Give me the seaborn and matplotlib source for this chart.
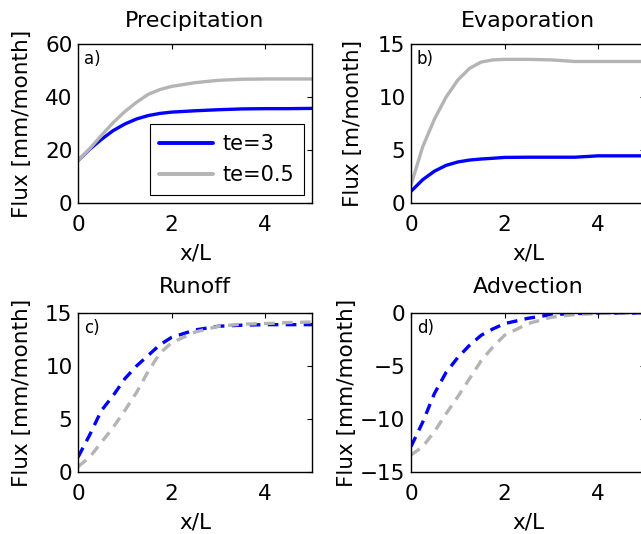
import numpy as np
import pandas as pd
import matplotlib
matplotlib.use("Agg")
import matplotlib.pyplot as plt
from matplotlib.lines import Line2D
import seaborn as sns

x_over_L = [0, 0.25, 0.5, 0.75, 1, 1.25, 1.5, 1.75, 2, 2.5, 3, 3.5, 4, 4.5, 5]
series_names = ["te=3", "te=0.5"]

precip_te3 = [16, 20.3, 24, 27.3, 29.8, 31.7, 33, 33.8, 34.3, 34.8, 35.2, 35.5, 35.6, 35.6, 35.7]
precip_te05 = [16, 20.5, 25.5, 30.3, 34.5, 38, 41, 42.8, 44, 45.4, 46.3, 46.7, 46.8, 46.8, 46.8]
evap_te3 = [1.1, 2.2, 3.0, 3.55, 3.87, 4.05, 4.15, 4.22, 4.3, 4.32, 4.32, 4.32, 4.45, 4.45, 4.45]
evap_te05 = [1.7, 5.3, 7.9, 10.0, 11.6, 12.7, 13.3, 13.5, 13.55, 13.55, 13.5, 13.35, 13.35, 13.35, 13.35]
runoff_te3 = [1.4, 3.5, 5.8, 7.2, 8.8, 10.0, 11.0, 12.0, 12.7, 13.4, 13.75, 13.85, 13.9, 13.9, 13.9]
runoff_te05 = [0.5, 1.4, 2.8, 4.2, 5.8, 7.5, 9.5, 11.2, 12.2, 13.2, 13.75, 13.95, 14.0, 14.1, 14.15]
adv_te3 = [-12.6, -10.3, -7.6, -5.6, -4.2, -3.05, -2.1, -1.5, -1.0, -0.5, -0.15, -0.05, 0, 0, 0]
adv_te05 = [-13.4, -12.6, -11.2, -9.5, -7.9, -6.2, -4.5, -3.2, -2.1, -1.0, -0.4, -0.15, -0.05, 0, 0]

titles = ["Precipitation", "Evaporation", "Runoff", "Advection"]
panel_tags = ["a)", "b)", "c)", "d)"]
ylabels = ["Flux [mm/month]", "Flux [m/month]", "Flux [mm/month]", "Flux [mm/month]"]
ylims = [(0, 60), (0, 15), (0, 15), (-15, 0)]
yticks = [[0, 20, 40, 60], [0, 5, 10, 15], [0, 5, 10, 15], [-15, -10, -5, 0]]
xticks = [0, 2, 4]

sns.set_theme(style="white")
plt.rcParams["font.family"] = ["DejaVu Sans"]
plt.rcParams.update({
    "xtick.direction": "in", "ytick.direction": "in",
    "xtick.top": True, "ytick.right": True,
    "xtick.major.size": 3.5, "ytick.major.size": 3.5,
    "xtick.major.width": 0.8, "ytick.major.width": 0.8,
    "axes.edgecolor": "black", "axes.linewidth": 1.0,
    "xtick.color": "black", "ytick.color": "black",
    "text.color": "black", "axes.labelcolor": "black",
})

colors = {"te=3": "#0000ff", "te=0.5": "#b4b4b4"}

fig = plt.figure(figsize=(6.41, 5.34), dpi=100)
W, H = 641, 534
positions = [
    (78, 44, 234, 159),
    (411, 44, 234, 159),
    (78, 313, 234, 159),
    (411, 313, 234, 159),
]
title_pads = [12.5, 12.5, 14.5, 14.5]
ylabel_x = [-0.197, -0.205, -0.197, -0.231]
data_sets = [
    (precip_te3, precip_te05),
    (evap_te3, evap_te05),
    (runoff_te3, runoff_te05),
    (adv_te3, adv_te05),
]

for i in range(4):
    l, t, w, h = positions[i]
    ax = fig.add_axes([l / W, 1 - (t + h) / H, w / W, h / H])
    s3, s05 = data_sets[i]
    df = pd.DataFrame({
        "x": x_over_L * 2,
        "y": list(s3) + list(s05),
        "te": [series_names[0]] * len(x_over_L) + [series_names[1]] * len(x_over_L),
    })
    sns.lineplot(data=df, x="x", y="y", hue="te", palette=colors,
                 hue_order=series_names, linewidth=2.4, ax=ax,
                 legend=False, sort=False)
    if i >= 2:
        for ln in ax.get_lines():
            ln.set_dashes((3.2, 2.2))
    ax.set_xlim(0, 5)
    ax.set_ylim(*ylims[i])
    ax.set_xticks(xticks)
    ax.set_yticks(yticks[i])
    ax.tick_params(axis="y", labelsize=15.5, pad=4, colors="black")
    ax.tick_params(axis="x", labelsize=15.5, pad=9, colors="black")
    ax.set_xlabel("x/L", fontsize=15.5, labelpad=6)
    ax.set_ylabel(ylabels[i], fontsize=15.5)
    ax.yaxis.set_label_coords(ylabel_x[i], 0.5)
    ax.set_title(titles[i], fontsize=16, pad=title_pads[i])
    ax.text(0.025, 0.965, panel_tags[i], transform=ax.transAxes,
            fontsize=12, va="top", ha="left")
    for sp in ax.spines.values():
        sp.set_visible(True)
        sp.set_color("black")
    if i == 0:
        handles = [Line2D([], [], color=colors[n], lw=2.8) for n in series_names]
        leg = ax.legend(handles, series_names, loc="lower right",
                        fontsize=15, frameon=True, fancybox=False,
                        edgecolor="black", framealpha=1,
                        handlelength=2.6, borderaxespad=0.4,
                        handletextpad=0.45, labelspacing=0.55, borderpad=0.45)
        leg.get_frame().set_linewidth(0.8)

fig.savefig("out.png", dpi=100)
